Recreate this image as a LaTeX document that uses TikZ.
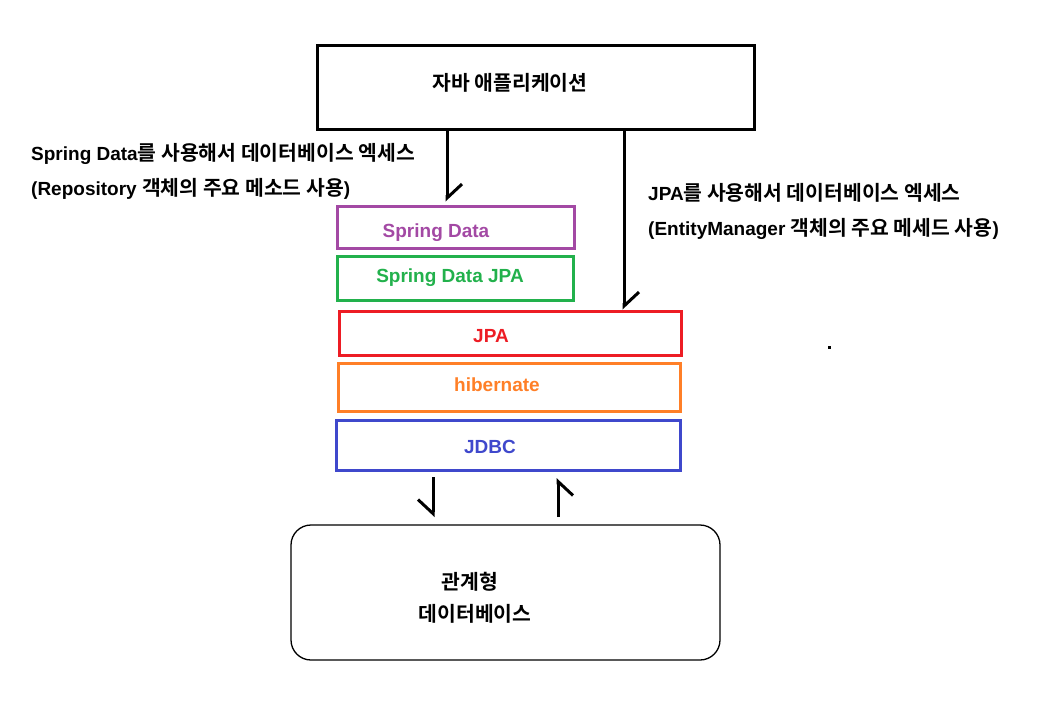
\documentclass[tikz,border=0pt]{standalone}
\usepackage{fontspec}
\setmainfont{Liberation Sans}
\newfontfamily\kr{Noto Sans CJK KR}[BoldFont={Noto Sans CJK KR Bold}, Scale=1.075]
\usepackage{xcolor}
\usetikzlibrary{positioning, arrows.meta, calc}

\definecolor{sdpurple}{HTML}{A349A4}
\definecolor{jpagreen}{HTML}{22B14C}
\definecolor{jpared}{HTML}{ED1C24}
\definecolor{hiborange}{HTML}{FF7F27}
\definecolor{jdbcblue}{HTML}{3F48CC}

\begin{document}
\begin{tikzpicture}[
				x=1pt, y=-1pt,
				font=\fontsize{19}{23}\selectfont\bfseries,
				layer/.style={draw, line width=3pt, minimum height=42pt, inner sep=0pt},
				txt/.style={inner sep=0pt, anchor=center},
				note/.style={inner sep=0pt, anchor=west, align=left},
				harp/.style={-{Straight Barb[harpoon, length=14pt, width=30pt]}, line width=3pt},
				harpsw/.style={-{Straight Barb[harpoon, swap, length=14pt, width=30pt]}, line width=3pt}
				]
				\useasboundingbox (0,0) rectangle (1043,716);
				
				% Application
				\node[layer, minimum width=437pt, minimum height=84pt] (app) at (535.5,87) {};
				\node[txt] (apptxt) at (510,83) {\kr 자바 애플리케이션};
				
				% Layers
				\node[layer, draw=sdpurple, minimum width=237pt] (sd) at (455.5,227) {};
				\node[txt, text=sdpurple] (sdtxt) at (436,233) {Spring Data};
				\node[layer, draw=jpagreen, minimum width=236pt, minimum height=44pt] (sdj) at (455,278) {};
				\node[txt, text=jpagreen] (sdjtxt) at (450,278) {Spring Data JPA};
				\node[layer, draw=jpared, minimum width=342pt, minimum height=44pt] (jpa) at (510,333) {};
				\node[txt, text=jpared] (jpatxt) at (491,336) {JPA};
				\node[layer, draw=hiborange, minimum width=342pt, minimum height=48pt] (hib) at (509,387) {};
				\node[txt, text=hiborange] (hibtxt) at (497,385) {hibernate};
				\node[layer, draw=jdbcblue, minimum width=344pt, minimum height=50pt] (jdbc) at (508,445) {};
				\node[txt, text=jdbcblue] (jdbctxt) at (490,447) {JDBC};
				
				% Database
				\node[draw, line width=1.3pt, rounded corners=20pt, minimum width=429pt, minimum height=135pt] (db) at (505.5,592.5) {};
				\node[txt] (dbtxt1) at (470,582) {\kr 관계형};
				\node[txt] (dbtxt2) at (475,614) {\kr 데이터베이스};
				
				% Notes
				\node[note] (sdnote) at (31,171) {Spring Data{\kr 를 사용해서 데이터베이스 엑세스}\\[12pt]({}Repository {\kr 객체의 주요 메소드 사용})};
				\node[note] (jpanote) at (648,211) {JPA{\kr 를 사용해서 데이터베이스 엑세스}\\[12pt]({}EntityManager {\kr 객체의 주요 메세드 사용})};
				
				% Arrows
				\draw[harp] (app.south -| 447,0) -- ($(sd.north -| 447,0)+(0,-3)$);
				\draw[harp] (app.south -| 624,0) -- (jpa.north -| 624,0);
				\coordinate (dnA) at (433,477);
				\coordinate (dnB) at (433,517);
				\coordinate (upA) at (558,517);
				\coordinate (upB) at (558,478);
				\draw[harpsw] (dnA) -- (dnB);
				\draw[harpsw] (upA) -- (upB);
				
				% Dot
				\fill (827.5,345.5) rectangle (830.5,348.5);
				
			\end{tikzpicture}
\end{document}
